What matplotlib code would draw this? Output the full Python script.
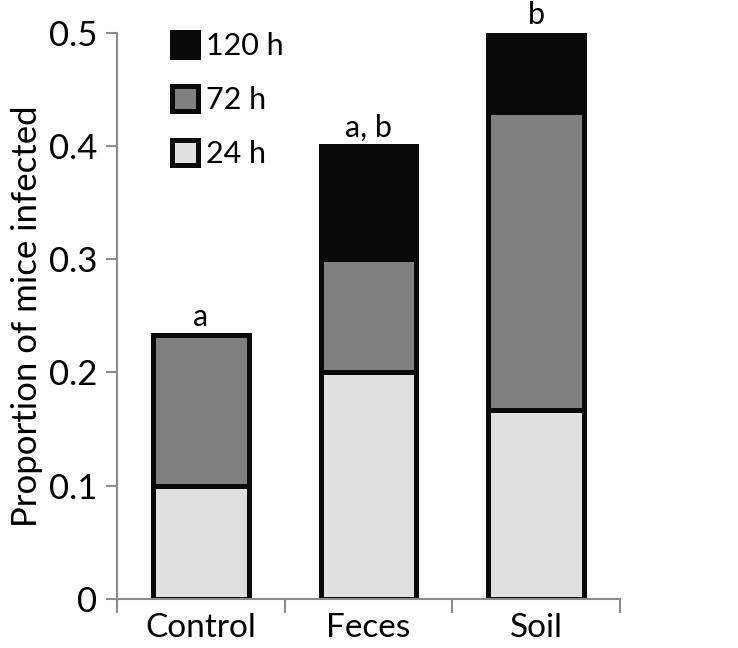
import numpy as np
import matplotlib.pyplot as plt

plt.rcParams['font.family'] = ['Lato', 'DejaVu Sans']

groups = ["Control", "Feces", "Soil"]
h24 = [0.100, 0.200, 0.167]
h72 = [0.133, 0.100, 0.263]
h120 = [0.000, 0.100, 0.070]
letters = ["a", "a, b", "b"]

fig = plt.figure(figsize=(7.38, 6.48), dpi=100)
ax = fig.add_axes([0.1585, 0.076, 0.6815, 0.873])

x = np.arange(len(groups))
w = 0.57
lw = 3.6
b24 = ax.bar(x, h24, w, color="#e0e0e0", edgecolor="#0a0a0a", linewidth=lw, label="24 h", zorder=2)
b72 = ax.bar(x, h72, w, bottom=h24, color="#808080", edgecolor="#0a0a0a", linewidth=lw, label="72 h", zorder=2)
bottom120 = np.array(h24) + np.array(h72)
keep = np.array(h120) > 0
b120 = ax.bar(x[keep], np.array(h120)[keep], w, bottom=bottom120[keep], color="#0a0a0a",
              edgecolor="#0a0a0a", linewidth=lw, label="120 h", zorder=2)

tops = bottom120 + np.array(h120)
for xi, t, s in zip(x, tops, letters):
    ax.text(xi, t + 0.004, s, ha="center", va="bottom", fontsize=22)

ax.set_xlim(-0.5, 2.5)
ax.set_ylim(0, 0.5)
ax.set_yticks([0, 0.1, 0.2, 0.3, 0.4, 0.5])
ax.set_yticklabels(["0", "0.1", "0.2", "0.3", "0.4", "0.5"])
ax.set_xticks(x)
ax.set_xticklabels(groups)
ax.set_xticks([-0.5, 0.5, 1.5, 2.5], minor=True)
ax.tick_params(axis="x", which="major", length=0, pad=10, labelsize=24)
ax.tick_params(axis="x", which="minor", length=10, width=1.5, color="#8c8c8c", direction="out")
ax.tick_params(axis="y", length=8, width=1.5, color="#8c8c8c", labelsize=25, pad=6)

for side in ["top", "right"]:
    ax.spines[side].set_visible(False)
for side in ["left", "bottom"]:
    ax.spines[side].set_color("#8c8c8c")
    ax.spines[side].set_linewidth(1.5)

ax.set_ylabel("Proportion of mice infected", fontsize=25, labelpad=4)

ax.legend(handles=[b120, b72, b24], loc="upper left", bbox_to_anchor=(0.055, 1.05),
          frameon=False, fontsize=22, handlelength=0.85, handleheight=0.85,
          handletextpad=0.25, labelspacing=0.85)

fig.savefig("out.png", dpi=100)
